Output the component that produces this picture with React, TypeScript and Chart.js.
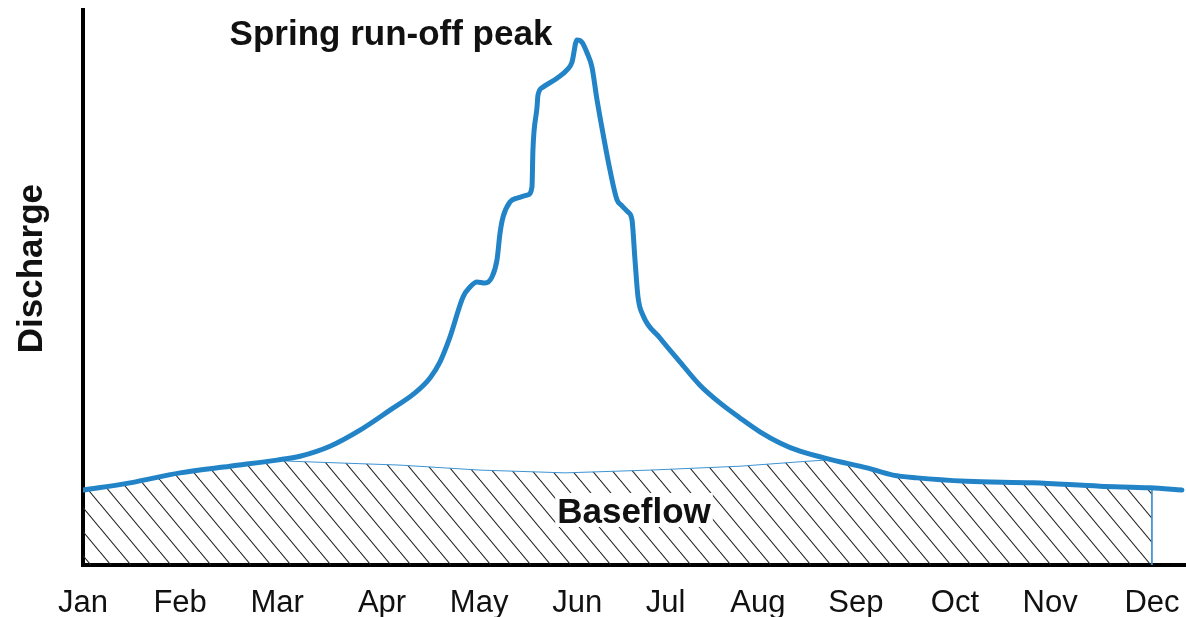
import React, { useEffect, useRef } from 'react';
import { Chart, registerables } from 'chart.js';

Chart.register(...registerables);

// ---- Data (x in months since 1 Jan, y in relative discharge units 0–100) ----
const monthLabels = ['Jan', 'Feb', 'Mar', 'Apr', 'May', 'Jun', 'Jul', 'Aug', 'Sep', 'Oct', 'Nov', 'Dec'];
const monthTickPos = [0, 1.0, 2.0, 3.08, 4.08, 5.09, 6.0, 6.95, 7.96, 8.98, 9.96, 11.01];

const dischargeX = [
  0, 0.484, 0.999, 1.514, 1.998, 2.235, 2.544, 2.853, 3.162, 3.419, 3.574, 3.677, 3.78, 3.914, 3.986,
  4.058, 4.14, 4.212, 4.264, 4.295, 4.326, 4.397, 4.47, 4.583, 4.624, 4.634, 4.676, 4.686, 4.737, 4.882,
  4.985, 5.036, 5.087, 5.139, 5.191, 5.242, 5.294, 5.355, 5.427, 5.5, 5.551, 5.613, 5.654, 5.685, 5.716,
  5.767, 5.942, 6.148, 6.354, 6.56, 6.766, 6.972, 7.178, 7.384, 7.724, 8.074, 8.342, 8.589, 9.104, 9.784,
  10.474, 10.989, 11.318,
];
const dischargeY = [
  13.5, 14.8, 16.6, 17.8, 18.9, 19.6, 21.4, 24.3, 27.9, 31.0, 33.7, 36.6, 41.1, 48.3, 50.1,
  51.0, 50.8, 51.9, 55.0, 59.8, 62.7, 65.4, 66.1, 66.7, 68.1, 74.8, 82.5, 84.7, 86.1, 87.7,
  89.2, 90.6, 94.6, 94.2, 92.3, 89.7, 83.8, 77.8, 71.2, 65.8, 64.7, 63.6, 62.2, 55.0, 48.3,
  45.0, 40.9, 36.6, 32.4, 29.2, 26.5, 24.0, 22.0, 20.5, 18.9, 17.5, 16.2, 15.7, 15.1, 14.8,
  14.2, 13.9, 13.5,
];

const baseflowX = [
  0, 0.999, 1.998, 2.132, 3.265, 4.089, 4.964, 5.839, 6.766, 7.384, 7.642, 8.074, 8.342, 8.589,
  9.104, 9.784, 10.474, 11.009, 11.009,
];
const baseflowY = [
  13.5, 16.6, 18.9, 18.7, 18.0, 17.1, 16.6, 17.1, 17.8, 18.6, 18.9, 17.5, 16.2, 15.7,
  15.1, 14.8, 14.2, 13.9, 0,
];

const FONT = '"Liberation Sans", Arial, Helvetica, sans-serif';

function makeHatch(): CanvasPattern | string {
  const tile = document.createElement('canvas');
  tile.width = 20;
  tile.height = 24;
  const c = tile.getContext('2d');
  if (!c) return 'rgba(0,0,0,0.1)';
  c.strokeStyle = '#222';
  c.lineWidth = 1.1;
  for (const dx of [-20, 0, 20]) {
    c.beginPath();
    c.moveTo(dx, 0);
    c.lineTo(dx + 20, 24);
    c.stroke();
  }
  return c.createPattern(tile, 'repeat') || 'rgba(0,0,0,0.1)';
}

const annotationPlugin = {
  id: 'hydroAnnotations',
  afterDatasetsDraw(chart: any) {
    const { ctx, scales } = chart;
    const x = scales.x;
    const y = scales.y;
    ctx.save();
    ctx.fillStyle = '#111';
    ctx.font = `bold 35px ${FONT}`;
    ctx.textAlign = 'center';
    ctx.textBaseline = 'alphabetic';

    // Peak label
    ctx.fillText('Spring run-off peak', x.getPixelForValue(3.172), y.getPixelForValue(93.7));

    // Baseflow label with white backing
    const bx = x.getPixelForValue(5.675);
    const by = y.getPixelForValue(7.57);
    const w = ctx.measureText('Baseflow').width;
    ctx.fillStyle = '#ffffff';
    ctx.fillRect(bx - w / 2 - 2, by - 30, w + 4, 34);
    ctx.fillStyle = '#111';
    ctx.fillText('Baseflow', bx, by);

    // Y axis title
    ctx.translate(x.left - 41, y.getPixelForValue(53.4));
    ctx.rotate(-Math.PI / 2);
    ctx.fillText('Discharge', 0, 0);
    ctx.restore();
  },
};

export default function App() {
  const canvasRef = useRef<HTMLCanvasElement | null>(null);

  useEffect(() => {
    const canvas = canvasRef.current;
    if (!canvas) return;
    const hatch = makeHatch();
    const chart = new Chart(canvas, {
      type: 'line',
      data: {
        datasets: [
          {
            label: 'Discharge',
            data: dischargeX.map((v, i) => ({ x: v, y: dischargeY[i] })),
            borderColor: '#2284c7',
            borderWidth: 5,
            pointRadius: 0,
            fill: false,
            cubicInterpolationMode: 'monotone',
            borderCapStyle: 'round',
            borderJoinStyle: 'round',
            order: 0,
          },
          {
            label: 'Baseflow',
            data: baseflowX.map((v, i) => ({ x: v, y: baseflowY[i] })),
            borderColor: '#3d93d2',
            borderWidth: 1,
            pointRadius: 0,
            fill: 'origin',
            backgroundColor: hatch as any,
            tension: 0,
            order: 1,
          },
        ],
      },
      options: {
        responsive: false,
        animation: false,
        layout: { padding: { top: 10, left: 0, right: 0, bottom: 0 } },
        plugins: {
          legend: { display: false },
          tooltip: { enabled: false },
          title: { display: false },
        },
        scales: {
          x: {
            type: 'linear',
            min: 0,
            max: 11.36,
            afterBuildTicks: (s: any) => {
              s.ticks = monthTickPos.map((v) => ({ value: v }));
            },
            afterFit: (s: any) => {
              s.height = 52;
              s.paddingLeft = 0;
              s.paddingRight = 0;
            },
            grid: { display: false, drawTicks: false },
            border: { display: true, color: '#000', width: 4 },
            ticks: {
              autoSkip: false,
              maxRotation: 0,
              minRotation: 0,
              padding: 20,
              color: '#111',
              font: { family: FONT, size: 31 },
              callback: (_v: any, i: number) => monthLabels[i] ?? '',
            },
          },
          y: {
            min: 0,
            max: 100,
            afterFit: (s: any) => {
              s.width = 83;
              s.paddingTop = 0;
              s.paddingBottom = 0;
            },
            grid: { display: false, drawTicks: false },
            border: { display: true, color: '#000', width: 4 },
            ticks: { display: false },
          },
        },
      },
      plugins: [annotationPlugin],
    });
    return () => chart.destroy();
  }, []);

  return (
    <div style={{ position: 'absolute', left: 0, top: 0, width: 1186, height: 617, background: '#fff' }}>
      <canvas ref={canvasRef} width={1186} height={617} style={{ display: 'block' }} />
    </div>
  );
}
